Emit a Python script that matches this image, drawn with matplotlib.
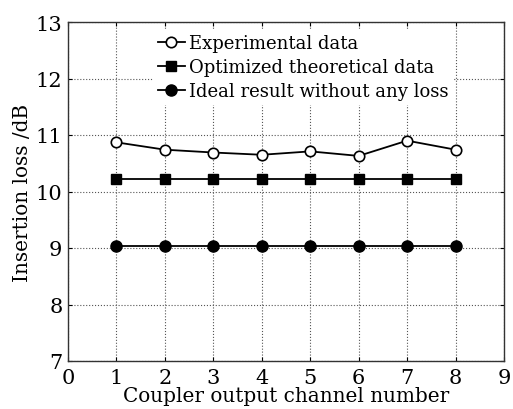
import matplotlib
matplotlib.use("Agg")
import matplotlib.pyplot as plt

channels = [1, 2, 3, 4, 5, 6, 7, 8]
experimental = [10.87, 10.74, 10.69, 10.65, 10.71, 10.63, 10.90, 10.74]
optimized = [10.22] * 8
ideal = [9.03] * 8

plt.rcParams['font.family'] = ['DejaVu Serif']
plt.rcParams['mathtext.fontset'] = 'dejavuserif'

fig = plt.figure(figsize=(5.13, 4.10), dpi=100)
ax = fig.add_axes([68/513, 48/410, 436/513, 339/410])

ax.plot(channels, experimental, '-', color='black', lw=1.3, marker='o', ms=7.5,
        mfc='white', mec='black', mew=1.2, label='Experimental data')
ax.plot(channels, optimized, '-', color='black', lw=1.3, marker='s', ms=7,
        mfc='black', mec='black', label='Optimized theoretical data')
ax.plot(channels, ideal, '-', color='black', lw=1.3, marker='o', ms=8,
        mfc='black', mec='black', label='Ideal result without any loss')

ax.set_xlim(0, 9)
ax.set_ylim(7, 13)
ax.set_xticks(range(0, 10))
ax.set_yticks(range(7, 14))
ax.tick_params(direction='in', top=True, right=True, labelsize=15, length=3)
ax.tick_params(axis='x', pad=5)
ax.tick_params(axis='y', pad=4)
ax.grid(True, linestyle=':', color='#555555', lw=0.8)
ax.set_axisbelow(True)
for s in ax.spines.values():
    s.set_linewidth(1.0)
    s.set_color('#333333')

ax.set_xlabel('Coupler output channel number', fontsize=14.4, labelpad=-1)
ax.set_ylabel('Insertion loss /dB', fontsize=14.4, labelpad=3)

leg = ax.legend(loc='upper left', bbox_to_anchor=(0.175, 1.004), fontsize=13,
                frameon=True, handlelength=1.5, handletextpad=0.2,
                borderpad=0.25, labelspacing=0.34, fancybox=False)
leg.get_frame().set_edgecolor('none')
leg.get_frame().set_facecolor('white')
leg.get_frame().set_alpha(1.0)

fig.savefig('out.png', dpi=100)
